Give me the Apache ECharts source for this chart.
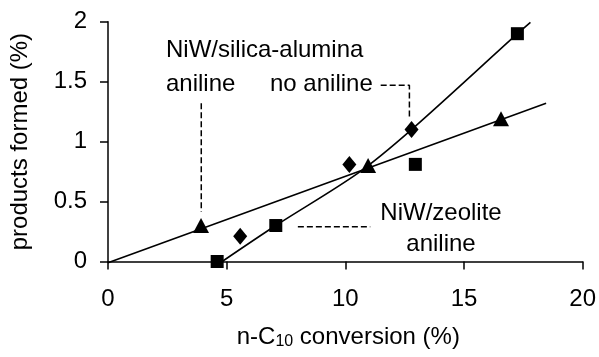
<!DOCTYPE html>
<html>
<head>
<meta charset="utf-8">
<script src="https://cdn.jsdelivr.net/npm/echarts@6/dist/echarts.min.js"></script>
<style>
  html, body { margin: 0; padding: 0; background: #fff; }
  #chart { width: 599px; height: 357px; }
</style>
</head>
<body>
<div id="chart"></div>
<script>
// Axis ranges and ticks
const xTicks = [0, 5, 10, 15, 20];
const yTicks = [0, 0.5, 1, 1.5, 2];

// Measured points: [n-C10 conversion (%), products formed (%)]
const zeoliteAniline = [[4.6, 0], [7.07, 0.30], [12.95, 0.81], [17.25, 1.90]];
const silicaNoAniline = [[5.57, 0.21], [10.17, 0.81], [12.79, 1.10]];
const silicaAniline = [[3.92, 0.30], [10.96, 0.80], [16.56, 1.19]];

// Trend lines
const trendSilicaAniline = [[0, -0.01], [18.46, 1.32]];
const trendZeolite = [[4.81, 0], [7.07, 0.30], [10.52, 0.735], [12.79, 1.10], [17.25, 1.90], [17.8, 1.995]];

// Dashed leader lines from the annotations to their markers
const leaderSilicaAniline = [[3.93, 1.32], [3.93, 0.415]];
const leaderNoAniline = [[11.49, 1.47], [12.7, 1.47], [12.7, 1.21]];
const leaderZeolite = [[8.0, 0.29], [11.05, 0.29]];

const FONT = '"Liberation Sans", Arial, sans-serif';
const FS = 24;

const chart = echarts.init(document.getElementById('chart'), null, { renderer: 'canvas' });

const axisCommon = {
  axisLine: { show: true, lineStyle: { color: '#000', width: 1.5 } },
  axisTick: { show: true, inside: false, length: 8, lineStyle: { color: '#000', width: 1.5 } },
  splitLine: { show: false },
  axisLabel: { color: '#000', fontFamily: FONT, fontSize: FS },
  nameTextStyle: { color: '#000', fontFamily: FONT, fontSize: FS }
};

function leader(data) {
  return {
    type: 'line', data, symbol: 'none', silent: true, clip: false,
    lineStyle: { color: '#000', width: 1.5, type: [6, 3] }
  };
}

function label(text, x, y, align) {
  return {
    type: 'text', x, y, silent: true,
    style: { text, fill: '#000', font: FS + 'px ' + FONT, align: align || 'left', verticalAlign: 'middle' }
  };
}

function markers(name, data, symbol, size) {
  return {
    name, type: 'scatter', data, symbol, symbolSize: size, z: 5,
    itemStyle: { color: '#000', opacity: 1 }
  };
}

chart.setOption({
  animation: false,
  backgroundColor: '#fff',
  grid: { left: 105, right: 15.5, top: 21.7, bottom: 95.5, containLabel: false },
  xAxis: Object.assign({}, axisCommon, {
    type: 'value',
    min: xTicks[0], max: xTicks[xTicks.length - 1], interval: xTicks[1] - xTicks[0],
    axisLabel: Object.assign({}, axisCommon.axisLabel, { margin: 26 }),
    name: '{a|n-C}{s|10}{a| conversion (%)}',
    nameLocation: 'middle',
    nameGap: 64,
    nameTextStyle: {
      color: '#000', fontFamily: FONT, fontSize: FS, padding: [0, 0, 0, 6],
      rich: {
        a: { fontFamily: FONT, fontSize: FS, color: '#000', lineHeight: 24 },
        s: { fontFamily: FONT, fontSize: 16, color: '#000', lineHeight: 12, verticalAlign: 'bottom' }
      }
    }
  }),
  yAxis: Object.assign({}, axisCommon, {
    type: 'value',
    min: yTicks[0], max: yTicks[yTicks.length - 1], interval: yTicks[1] - yTicks[0],
    axisLabel: Object.assign({}, axisCommon.axisLabel, { margin: 21 }),
    name: 'products formed (%)',
    nameLocation: 'middle',
    nameGap: 76
  }),
  series: [
    {
      type: 'line', data: trendSilicaAniline, symbol: 'none', silent: true, clip: false,
      lineStyle: { color: '#000', width: 1.6 }
    },
    {
      type: 'line', data: trendZeolite, symbol: 'none', silent: true, clip: false, smooth: 0.3,
      lineStyle: { color: '#000', width: 1.6 }
    },
    leader(leaderSilicaAniline),
    leader(leaderNoAniline),
    leader(leaderZeolite),
    markers('NiW/zeolite aniline', zeoliteAniline, 'rect', 13),
    markers('NiW/silica-alumina no aniline', silicaNoAniline, 'diamond', [14, 17]),
    markers('NiW/silica-alumina aniline', silicaAniline, 'triangle', [16, 15])
  ],
  graphic: [
    label('NiW/silica-alumina', 166, 50),
    label('aniline', 166, 84),
    label('no aniline', 270, 84),
    label('NiW/zeolite', 441, 213, 'center'),
    label('aniline', 441, 244, 'center')
  ]
});
</script>
</body>
</html>
